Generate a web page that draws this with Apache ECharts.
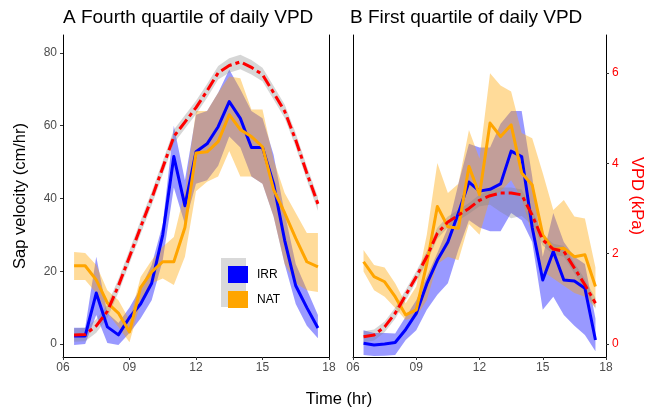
<!DOCTYPE html>
<html><head><meta charset="utf-8">
<script src="https://cdn.jsdelivr.net/npm/echarts@6/dist/echarts.min.js"></script>
<style>html,body{margin:0;padding:0;background:#fff}#c{width:646px;height:414px}</style>
</head><body><div id="c"></div>
<script>
// Time of day (hr)
const hours = [6.5,7,7.5,8,8.5,9,9.5,10,10.5,11,11.5,12,12.5,13,13.5,14,14.5,15,15.5,16,16.5,17,17.5];
const xTicks = [6,9,12,15,18];
const sapTicks = [0,20,40,60,80];
const vpdTicks = [0,2,4,6];

// Panel A: Fourth quartile of daily VPD
const aIrrMean = [2.2,2.2,14,4.7,2.5,7.3,11,16.7,30,51.5,38,52.8,55,59.7,66.6,62,54,54,44,28.5,16,10,4.4];
const aIrrLo   = [-0.3,0,8,0.3,-0.3,3,7,12,23,43,33,44,45,49,57,54,46,44,35,22,11,5,1.6];
const aIrrHi   = [4.5,4.5,24,8.5,5.8,10,15.4,21.7,33,60,45,63,64,69,75.4,70,64,62,52,36,22,15,8];
const aNatMean = [21.5,21.5,17.6,11.3,8.5,3.3,15.5,19.8,22.6,22.6,32,52.5,52.8,55.6,63,58.9,57,54.2,42.4,36,29,22.6,21.2];
const aNatLo   = [17.6,17.6,14,8.5,4.7,0.5,11.3,16.7,18,16.2,24,42,44.6,46,53,46,46,44,35,22,16.7,14.8,14.3];
const aNatHi   = [25.3,25,21.7,14.8,12,6.6,18.4,23,26.7,29.4,42,64,64,69,73.5,73,64.4,64.4,50.6,41.5,36,30.5,30.5];
const aVpdMean = [0.20,0.21,0.40,0.72,1.29,1.93,2.58,3.22,3.90,4.59,4.91,5.23,5.60,6.00,6.16,6.24,6.12,5.96,5.56,5.15,4.51,3.78,3.10];
const aVpdLo   = [0.05,0.06,0.25,0.57,1.14,1.78,2.43,3.07,3.75,4.44,4.76,5.08,5.45,5.85,6.00,6.08,5.96,5.81,5.41,5.00,4.36,3.63,2.95];
const aVpdHi   = [0.35,0.36,0.55,0.87,1.44,2.08,2.73,3.37,4.05,4.74,5.06,5.38,5.75,6.15,6.32,6.40,6.28,6.11,5.71,5.30,4.66,3.93,3.25];

// Panel B: First quartile of daily VPD
const bIrrMean = [0.2,-0.3,0,0.4,4,8.4,16.5,23,28,36,44.5,42,42.5,44,53,51.5,32,17.6,25.4,17.6,17.3,15.3,1.1];
const bIrrLo   = [-3,-3.3,-3.2,-3,1.1,3.8,9.4,13.5,16.7,26,34,32,31,31,36,34,28,9.4,13,8,5,2.5,-2];
const bIrrHi   = [3.8,3,3,2.9,7.5,12,18.5,25,32,44,55,54,54,60.5,64,64,46,24,36,28,24,22,7];
const bNatMean = [22.6,18.5,17.1,13,8,9.4,22,37.8,32.2,31.8,48.8,41,60.7,57,60.2,47,43.7,30,26,26.3,24,24.5,15.8];
const bNatLo   = [19.9,14.8,13,9.9,6.6,7.5,12,22,24,23,33,30,40,42,45,40,30,20,18,16,14,13,10];
const bNatHi   = [25.8,21.7,21,16.7,11.2,15.8,30,49.7,41.5,44,58.8,51,74.4,71,69.4,58,56.5,47,36.8,39.6,35,34.5,21];
const bVpdMean = [0.16,0.20,0.38,0.68,1.08,1.49,1.93,2.45,2.70,2.85,3.00,3.18,3.28,3.34,3.34,3.30,2.85,2.30,2.10,2.05,1.68,1.31,0.90];
const bVpdLo   = [0.04,0.08,0.26,0.56,0.96,1.37,1.81,2.33,2.58,2.73,2.88,3.05,3.08,2.92,2.78,2.83,2.63,2.18,1.98,1.93,1.56,1.19,0.78];
const bVpdHi   = [0.28,0.32,0.50,0.80,1.20,1.61,2.05,2.57,2.82,2.97,3.12,3.30,3.40,3.46,3.46,3.42,2.97,2.42,2.22,2.17,1.80,1.43,1.02];

const SAP_MIN = -3.57, SAP_MAX = 84.9;
const VPD_RATIO = 12.42;
const VPD_MIN = SAP_MIN / VPD_RATIO, VPD_MAX = SAP_MAX / VPD_RATIO;

const BLUE = '#0000ff', ORANGE = '#ffa500', RED = '#ff0000';
const pairs = (ys) => hours.map((h, i) => [h, ys[i]]);

function band(id, lo, hi, xi, yi, color) {
  const data = hours.map((h, i) => [h, lo[i], hi[i]]);
  return {
    type:'custom', name:id, xAxisIndex:xi, yAxisIndex:yi, data:data, clip:true, silent:true,
    encode:{x:0, y:[1,2]},
    renderItem:function(params, api) {
      if (params.dataIndex !== 0) return null;
      const top = data.map(d => api.coord([d[0], d[2]]));
      const bot = data.map(d => api.coord([d[0], d[1]])).reverse();
      return {type:'polygon', shape:{points:top.concat(bot)}, style:{fill:color, stroke:null}};
    }
  };
}
function meanLine(name, ys, xi, yi, color, dashed) {
  return {type:'line', name:name, data:pairs(ys), xAxisIndex:xi, yAxisIndex:yi, symbol:'none',
    itemStyle:{color:color},
    lineStyle:{color:color, width:3, type: dashed ? [12,4,4,4] : 'solid', cap:'butt', join:'round'}, silent:true};
}

function panelSeries(p, xi, ySap, yVpd) {
  const A = p === 'a';
  return [
    band(p+'irrBand', A?aIrrLo:bIrrLo, A?aIrrHi:bIrrHi, xi, ySap, 'rgba(0,0,255,0.4)'),
    meanLine('IRR', A?aIrrMean:bIrrMean, xi, ySap, BLUE, false),
    band(p+'natBand', A?aNatLo:bNatLo, A?aNatHi:bNatHi, xi, ySap, 'rgba(255,165,0,0.4)'),
    meanLine('NAT', A?aNatMean:bNatMean, xi, ySap, ORANGE, false),
    band(p+'vpdBand', A?aVpdLo:bVpdLo, A?aVpdHi:bVpdHi, xi, yVpd, 'rgba(128,128,128,0.32)'),
    meanLine('VPD'+p, A?aVpdMean:bVpdMean, xi, yVpd, RED, true)
  ];
}

const FONT = 'Liberation Sans, Arial, Helvetica, sans-serif';
function xAxis(gi) {
  return {type:'value', gridIndex:gi, min:6, max:18, interval:3,
    axisLine:{onZero:false, lineStyle:{color:'#000', width:1}},
    axisTick:{length:3, lineStyle:{color:'#333'}},
    axisLabel:{formatter:(v)=>String(v).padStart(2,'0'), color:'#4d4d4d', fontSize:12, margin:5, fontFamily:FONT},
    splitLine:{show:false}};
}

const option = {
  animation:false,
  textStyle:{fontFamily:FONT},
  title:[
    {text:'A Fourth quartile of daily VPD', left:58, top:3, textStyle:{fontSize:19, fontWeight:'normal', color:'#000', fontFamily:FONT}},
    {text:'B First quartile of daily VPD', left:345, top:3, textStyle:{fontSize:19, fontWeight:'normal', color:'#000', fontFamily:FONT}}
  ],
  grid:[
    {left:63, top:35, width:266, height:322},
    {left:353, top:35, width:254, height:322}
  ],
  xAxis:[xAxis(0), xAxis(1)],
  yAxis:[
    {type:'value', gridIndex:0, min:SAP_MIN, max:SAP_MAX, position:'left',
      name:'Sap velocity (cm/hr)', nameLocation:'middle', nameGap:34,
      nameTextStyle:{fontSize:16.5, color:'#000', fontFamily:FONT},
      axisLine:{show:true, onZero:false, lineStyle:{color:'#000'}},
      axisTick:{show:true, length:3, customValues:sapTicks, lineStyle:{color:'#333'}},
      axisLabel:{customValues:sapTicks, color:'#4d4d4d', fontSize:12, margin:6, fontFamily:FONT},
      splitLine:{show:false}},
    {type:'value', gridIndex:0, min:VPD_MIN, max:VPD_MAX, position:'right',
      axisLine:{show:true, onZero:false, lineStyle:{color:'#000'}},
      axisTick:{show:false}, axisLabel:{show:false}, splitLine:{show:false}},
    {type:'value', gridIndex:1, min:SAP_MIN, max:SAP_MAX, position:'left',
      axisLine:{show:true, onZero:false, lineStyle:{color:'#000'}},
      axisTick:{show:false}, axisLabel:{show:false}, splitLine:{show:false}},
    {type:'value', gridIndex:1, min:VPD_MIN, max:VPD_MAX, position:'right',
      name:'VPD (kPa)', nameLocation:'middle', nameGap:22, nameRotate:-90,
      nameTextStyle:{fontSize:16.5, color:RED, fontFamily:FONT},
      axisLine:{show:true, onZero:false, lineStyle:{color:'#000'}},
      axisTick:{show:true, length:3, customValues:vpdTicks, lineStyle:{color:'#333'}},
      axisLabel:{customValues:vpdTicks, color:RED, fontSize:12, margin:6, fontFamily:FONT},
      splitLine:{show:false}}
  ],
  legend:{
    data:[{name:'IRR', icon:'rect', itemStyle:{color:BLUE}}, {name:'NAT', icon:'rect', itemStyle:{color:ORANGE}}],
    orient:'vertical', left:223, top:261, itemWidth:20, itemHeight:17, itemGap:8,
    textStyle:{fontSize:12, color:'#000', fontFamily:FONT, padding:[0,0,0,4]},
    selectedMode:false
  },
  graphic:[
    {type:'rect', z:0, silent:true, shape:{x:221, y:258, width:25, height:49}, style:{fill:'#d9d9d9'}},
    {type:'text', silent:true, x:339, y:399, style:{text:'Time (hr)', fill:'#000', fontSize:16.5, fontFamily:FONT, align:'center', verticalAlign:'middle'}}
  ],
  series:[...panelSeries('a', 0, 0, 1), ...panelSeries('b', 1, 2, 3)]
};

const chart = echarts.init(document.getElementById('c'), null, {renderer:'canvas'});
chart.setOption(option);
</script></body></html>
